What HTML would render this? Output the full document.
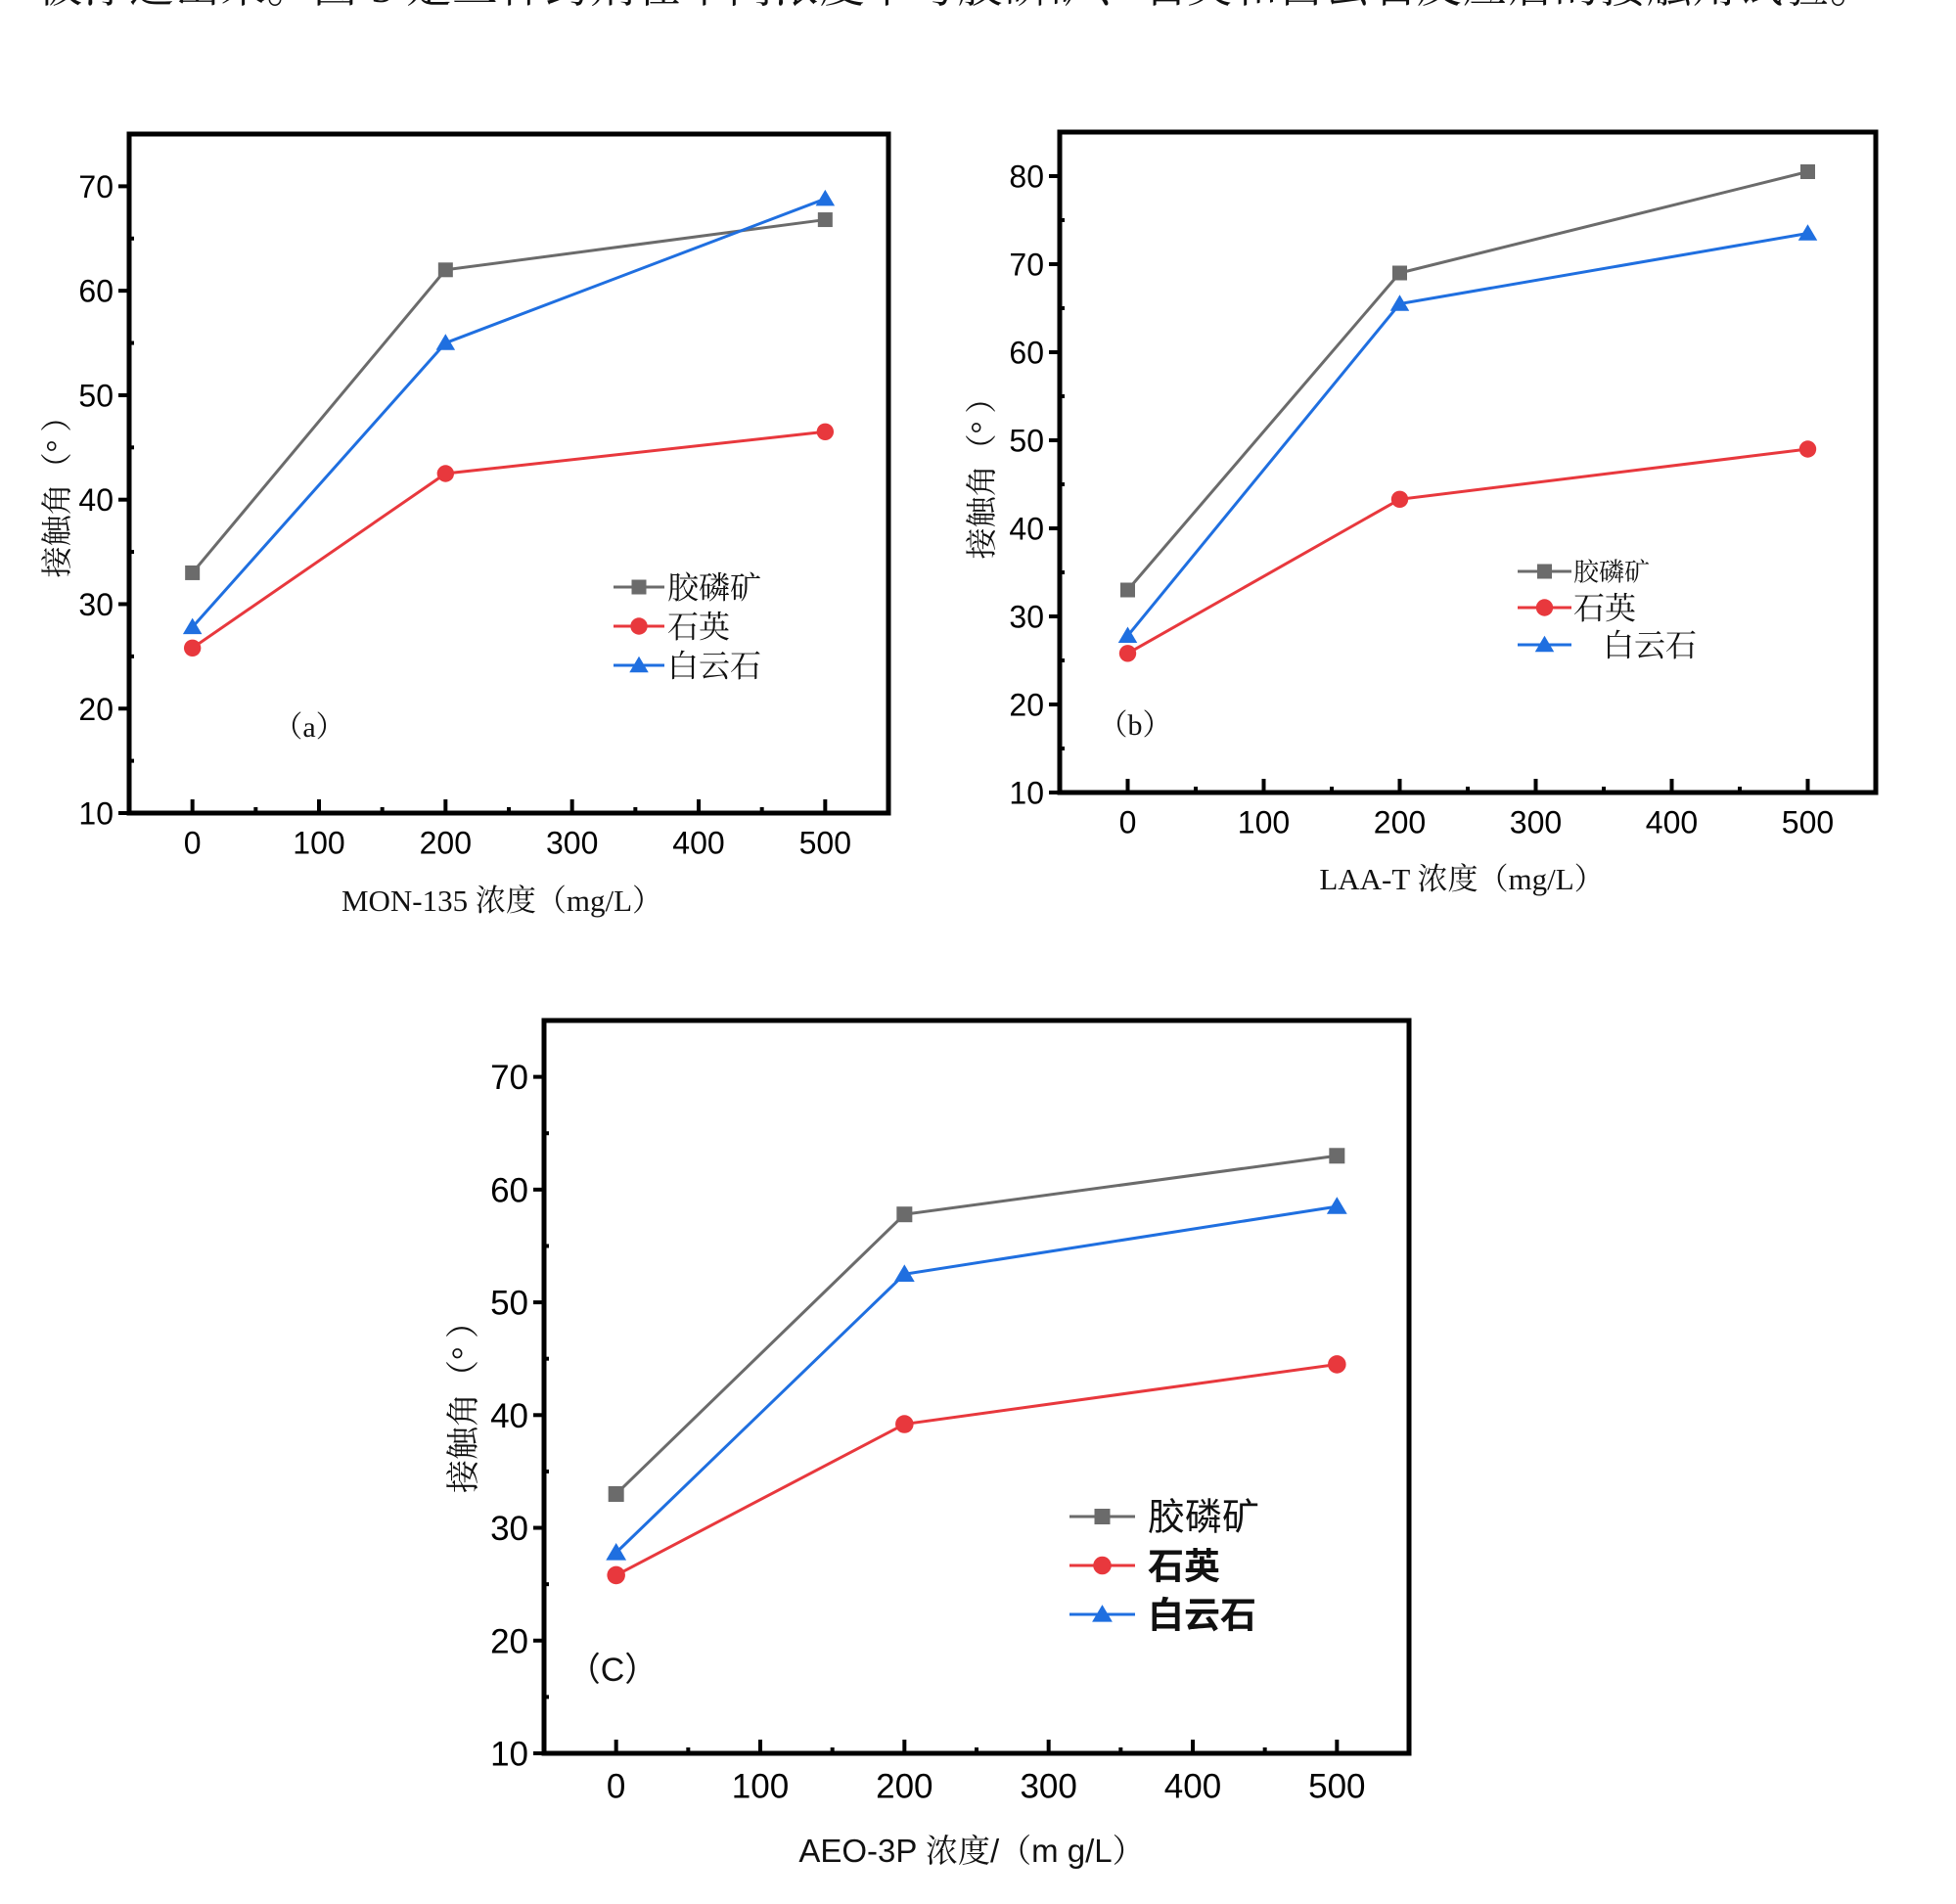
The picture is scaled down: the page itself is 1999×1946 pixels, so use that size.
<!DOCTYPE html>
<html><head><meta charset="utf-8"><style>
html,body{margin:0;padding:0;background:#fff;width:1999px;height:1946px;overflow:hidden}
svg{display:block}
</style></head><body>
<svg id="root" width="1999" height="1946" xmlns="http://www.w3.org/2000/svg">
<text x="38" y="2" font-size="46" font-family="'Liberation Serif','Noto Serif CJK SC',serif" fill="#111" textLength="1878">被浮选出来。图 5 是三种药剂在不同浓度下与胶磷矿、石英和白云石反应后的接触角试验。</text>
</svg>
<script>
const categories = [0, 200, 500];
const seriesNames = ['胶磷矿', '石英', '白云石'];
const aPhosphate = [33, 62, 66.8];
const aQuartz = [25.8, 42.5, 46.5];
const aDolomite = [27.8, 55, 68.8];
const bPhosphate = [33, 69, 80.5];
const bQuartz = [25.8, 43.3, 49];
const bDolomite = [27.8, 65.5, 73.5];
const cPhosphate = [33, 57.8, 63];
const cQuartz = [25.8, 39.2, 44.5];
const cDolomite = [27.8, 52.5, 58.5];
const xTicks = [0, 100, 200, 300, 400, 500];
const yTicksA = [10, 20, 30, 40, 50, 60, 70];
const yTicksB = [10, 20, 30, 40, 50, 60, 70, 80];

const NS = 'http://www.w3.org/2000/svg';
const root = document.getElementById('root');
const colors = ['#6b6b6b', '#e8383d', '#1f6fe0'];
function mk(tag, attrs, parent) {
  const e = document.createElementNS(NS, tag);
  for (const k in attrs) e.setAttribute(k, attrs[k]);
  (parent || root).appendChild(e);
  return e;
}
function marker(g, kind, x, y, color, s) {
  let m;
  if (kind === 0) m = mk('rect', {x: x - s / 2, y: y - s / 2, width: s, height: s, fill: color}, g);
  else if (kind === 1) m = mk('circle', {cx: x, cy: y, r: s * 0.58, fill: color}, g);
  else m = mk('polygon', {points: `${x},${y - s * 0.62} ${x - s * 0.65},${y + s * 0.48} ${x + s * 0.65},${y + s * 0.48}`, fill: color}, g);
  return m;
}
function chart(o) {
  const g = mk('g', {});
  
  
  const X = v => o.L + (v - (-50)) / 600 * (o.R - o.L);
  const Y = v => o.B - (v - 10) / (o.ymax - 10) * (o.B - o.T);
  for (let v = 10; v <= o.ymax; v += 5) {
    const major = v % 10 === 0;
    const t = mk('line', {x1: o.L - (major ? 11 : 0), x2: o.L + (major ? 0 : 5), y1: Y(v), y2: Y(v), stroke: '#000', 'stroke-width': 4}, g);
    
    
  }
  o.yTicks.forEach(v => {
    const t = mk('text', {x: o.L - 16, y: Y(v) + o.tf * 0.36, 'text-anchor': 'end', 'font-size': o.tf, 'font-family': "'Liberation Sans',sans-serif", fill: '#000'}, g);
    t.textContent = v;
    
    
  });
  for (let v = 0; v <= 500; v += 50) {
    const major = v % 100 === 0;
    const t = mk('line', {x1: X(v), x2: X(v), y1: o.B, y2: o.B - (major ? 14 : 6), stroke: '#000', 'stroke-width': 4}, g);
    
    
  }
  xTicks.forEach(v => {
    const t = mk('text', {x: X(v), y: o.B + o.tf * 1.3, 'text-anchor': 'middle', 'font-size': o.tf, 'font-family': "'Liberation Sans',sans-serif", fill: '#000'}, g);
    t.textContent = v;
    
    
  });
  const fr = mk('rect', {x: o.L, y: o.T, width: o.R - o.L, height: o.B - o.T, fill: 'none', stroke: '#000', 'stroke-width': 5}, g);
  
  
  o.series.forEach((vals, i) => {
    const pl = mk('polyline', {points: vals.map((v, j) => X(categories[j]) + ',' + Y(v)).join(' '), fill: 'none', stroke: colors[i], 'stroke-width': 3}, g);
    
    
    vals.forEach((v, j) => {
      const m = marker(g, i, X(categories[j]), Y(v), colors[i], o.ms);
      
      
    });
  });
  o.legRows.forEach((ly, i) => {
    const ln = mk('line', {x1: o.legX1, x2: o.legX2, y1: ly, y2: ly, stroke: colors[i], 'stroke-width': 3}, g);
    
    
    const m = marker(g, i, (o.legX1 + o.legX2) / 2, ly, colors[i], o.ms);
    
    
    const t = mk('text', {x: o.legTX[i], y: ly + o.lf[i] * 0.36, 'font-size': o.lf[i], 'font-family': o.legFont, 'font-weight': o.legBold[i], fill: '#111'}, g);
    t.textContent = seriesNames[i];
    
    
  });
  const pt = mk('text', {x: o.panel[0], y: o.panel[1] + 10, 'font-size': o.panel[2], 'font-family': o.panel[3], 'text-anchor': 'middle', fill: '#111'}, g);
  pt.textContent = o.panel[4];
  
  
  const xt = mk('text', {x: o.xt[0], y: o.xt[1] + 11, 'font-size': o.xt[2], 'font-family': o.xt[3], 'text-anchor': 'middle', fill: '#111'}, g);
  xt.textContent = o.xt[4];
  
  
  const yt = mk('text', {x: 0, y: 0, transform: `translate(${o.yt[0] + 11},${o.yt[1]}) rotate(-90)`, 'font-size': o.yt[2], 'font-family': "'Liberation Serif','Noto Serif CJK SC',serif", 'text-anchor': 'middle', fill: '#111'}, g);
  yt.textContent = '接触角（° ）';
  
  
}
const serif = "'Liberation Serif','Noto Serif CJK SC',serif";
chart({name: 'chart-a', L: 132, T: 137, R: 908, B: 831, ymax: 75, yTicks: yTicksA, tf: 32, ms: 15,
  series: [aPhosphate, aQuartz, aDolomite],
  legRows: [600, 640, 680], legX1: 627, legX2: 679, legTX: [682, 682, 682], lf: [32, 32, 32], legBold: ['normal', 'normal', 'normal'],
  legFont: serif,
  panel: [316, 743, 30, serif, '（a）'],
  xt: [513, 920, 31, serif, 'MON-135 浓度（mg/L）'], yt: [58, 500, 32]});
chart({name: 'chart-b', L: 1083, T: 135, R: 1917, B: 810, ymax: 85, yTicks: yTicksB, tf: 32, ms: 15,
  series: [bPhosphate, bQuartz, bDolomite],
  legRows: [584, 621, 659], legX1: 1551, legX2: 1606, legTX: [1608, 1608, 1638], lf: [26, 32, 32], legBold: ['normal', 'normal', 'normal'],
  legFont: serif,
  panel: [1160, 741, 30, serif, '（b）'],
  xt: [1494, 898, 31, serif, 'LAA-T  浓度（mg/L）'], yt: [1003, 481, 32]});
chart({name: 'chart-c', L: 556, T: 1043, R: 1440, B: 1792, ymax: 75, yTicks: yTicksA, tf: 35, ms: 16,
  series: [cPhosphate, cQuartz, cDolomite],
  legRows: [1550, 1600, 1650], legX1: 1093, legX2: 1160, legTX: [1173, 1173, 1173], lf: [38, 37, 37], legBold: ['normal', '600', '600'],
  legFont: "'Liberation Sans','Noto Sans CJK SC',sans-serif",
  panel: [626, 1708, 34, "'Liberation Sans','Noto Sans CJK SC',sans-serif", '（C）'],
  xt: [993, 1892, 33, "'Liberation Sans','Noto Serif CJK SC',sans-serif", 'AEO-3P 浓度/（m g/L）'], yt: [474, 1430, 34]});
</script>
</body></html>
